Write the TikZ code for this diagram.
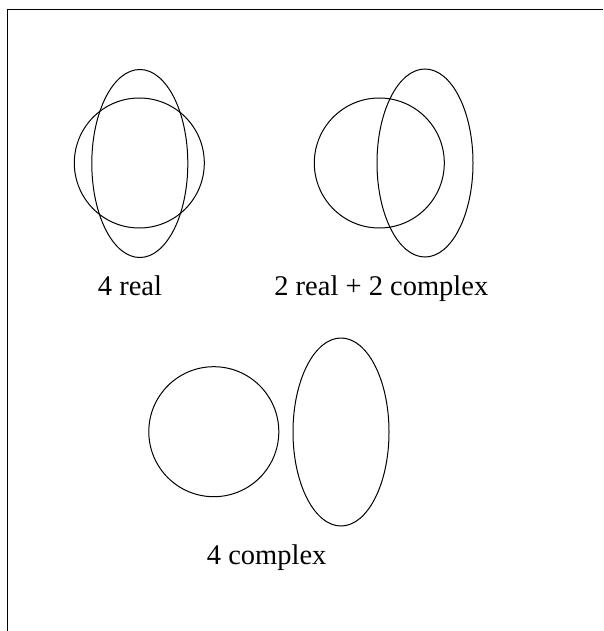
\documentclass[tikz,border=0pt]{standalone}
\usepackage{fontspec}
\setmainfont{Liberation Serif}
\usetikzlibrary{shapes.geometric}

\begin{document}
\begin{tikzpicture}[x=1pt,y=-1pt,line width=1pt,
  round/.style={draw,circle,inner sep=0pt,minimum size=130pt},
  oval/.style={draw,ellipse,inner sep=0pt,minimum width=96pt,minimum height=188pt},
  lab/.style={anchor=base,inner sep=0pt,font=\fontsize{28.5}{34}\selectfont}]
  \useasboundingbox (0,0) rectangle (603,631);
  \draw (7,631) -- (7,10) -- (603,10);
  % four real intersections
  \node[round] (ca) at (139.3,163) {};
  \node[oval] (ea) at (139.8,163.5) {};
  \node[lab] (la) at (130,295) {4 real};
  % two real, two complex
  \node[round] (cb) at (379.3,163) {};
  \node[oval] (eb) at (425,163) {};
  \node[lab] (lb) at (381.3,295) {2 real + 2 complex};
  % no real intersections
  \node[round] (cc) at (213.8,431.7) {};
  \node[oval] (ec) at (341,432) {};
  \node[lab] (lc) at (266.7,564.3) {4 complex};
\end{tikzpicture}
\end{document}
